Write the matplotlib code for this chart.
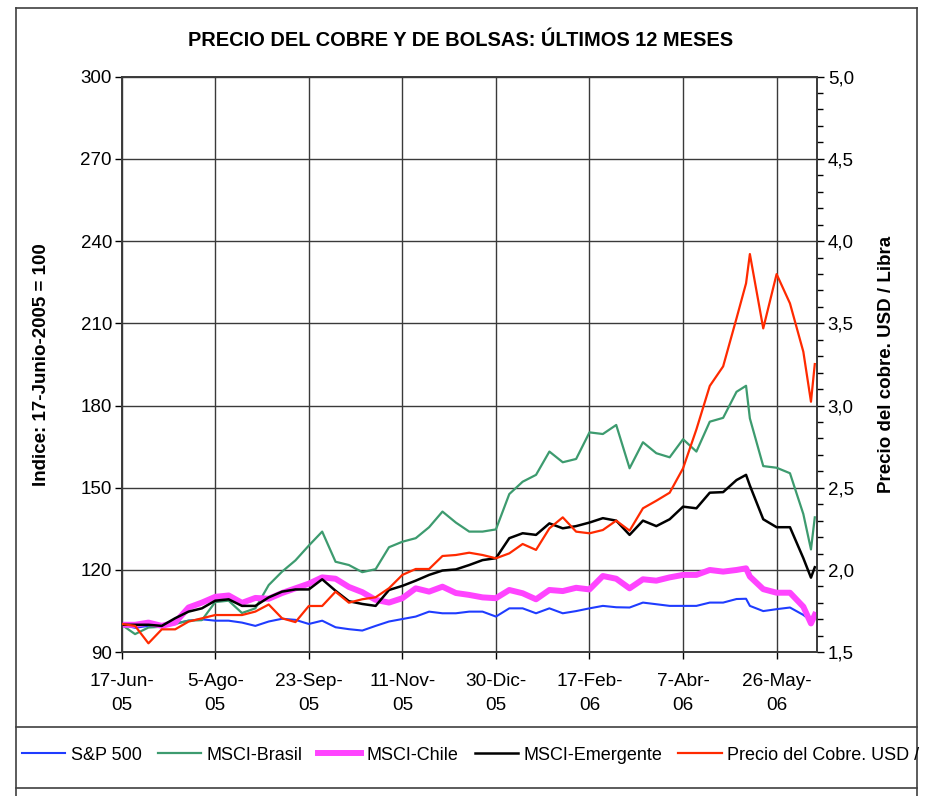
import matplotlib
matplotlib.use("Agg")
import matplotlib.pyplot as plt
import pandas as pd
from matplotlib.ticker import FixedLocator, MultipleLocator, FuncFormatter
from matplotlib.lines import Line2D

plt.rcParams['font.family'] = ['Liberation Sans', 'DejaVu Sans']

# ---------------- data ----------------
weekly_dates = pd.date_range('2005-06-17', '2006-05-05', freq='7D')
extra_dates = pd.to_datetime(['2006-05-10', '2006-05-12', '2006-05-19', '2006-05-26',
                              '2006-06-02', '2006-06-09', '2006-06-13', '2006-06-15'])
dates = weekly_dates.append(extra_dates)

sp500 = [100, 98.9, 99.6, 99.6, 100.5, 101.5, 102, 101.5, 101.5, 100.8,
         99.6, 101.2, 102.2, 101.8, 100.3, 101.5, 99.1, 98.4, 97.9, 99.6,
         101.2, 102.1, 103, 104.8, 104.2, 104.2, 104.8, 104.8, 103, 106,
         106, 104.2, 106, 104.2, 105, 106, 106.9, 106.4, 106.3, 108.1,
         107.5, 106.9, 106.9, 106.9, 108.1, 108.1, 109.4,
         109.5, 106.9, 105, 105.7, 106.3, 103.6, 101.5, 102.5]

brasil = [100, 96.6, 99.0, 99.3, 100.3, 101.5, 101.7, 108.3, 108.8, 104.3,
          106, 114.5, 119.4, 123.5, 128.9, 134, 123, 121.8, 119.2, 120.3,
          128.3, 130.3, 131.6, 135.6, 141.3, 137.3, 134, 134, 134.8, 147.7,
          152.2, 154.7, 163.2, 159.3, 160.5, 170.2, 169.6, 172.9, 157.1, 166.6,
          162.6, 161.1, 167.7, 163.2, 174.1, 175.5, 185,
          187.2, 175.3, 157.9, 157.3, 155.3, 140.4, 127.5, 139.2]

chile = [100, 100, 100.8, 99.6, 100.8, 106.3, 108.1, 110.2, 110.7, 108,
         109.8, 109.5, 111.6, 113.3, 115, 117.3, 116.8, 113.8, 111.9, 109.1,
         108.1, 109.7, 113.3, 112.1, 113.9, 111.6, 110.9, 110, 109.7, 112.7,
         111.5, 109.3, 112.7, 112.3, 113.5, 112.9, 117.8, 116.8, 113.3, 116.6,
         116.1, 117.3, 118.2, 118.2, 120, 119.4, 120,
         120.6, 117.6, 113, 111.7, 111.7, 106.6, 100.5, 103.6]

emergente = [100, 100, 100, 99.6, 102.4, 104.8, 106, 108.8, 109.3, 106.9,
             106.9, 110, 112.1, 112.9, 112.9, 116.6, 112.4, 108.6, 107.6, 106.9,
             112.7, 114.2, 116.1, 118.2, 119.8, 120.2, 121.8, 123.6, 124.3, 131.6,
             133.4, 132.8, 137, 135.2, 136, 137.3, 138.9, 138, 132.8, 138,
             136, 138.5, 143.1, 142.5, 148.2, 148.4, 152.8,
             154.7, 150.8, 138.5, 135.6, 135.6, 124.3, 117.2, 121]

cobre = [1.672, 1.660, 1.554, 1.639, 1.639, 1.686, 1.706, 1.726, 1.726, 1.726,
         1.747, 1.790, 1.706, 1.683, 1.781, 1.781, 1.868, 1.801, 1.822, 1.834,
         1.889, 1.970, 2.006, 2.006, 2.085, 2.091, 2.105, 2.091, 2.071, 2.101,
         2.158, 2.122, 2.253, 2.320, 2.233, 2.223, 2.243, 2.300, 2.239, 2.375,
         2.421, 2.470, 2.618, 2.855, 3.119, 3.238, 3.530,
         3.743, 3.921, 3.469, 3.799, 3.621, 3.327, 3.023, 3.252]

tick_dates = pd.to_datetime(['2005-06-17', '2005-08-05', '2005-09-23', '2005-11-11',
                             '2005-12-30', '2006-02-17', '2006-04-07', '2006-05-26'])
tick_labels = ['17-Jun-\n05', '5-Ago-\n05', '23-Sep-\n05', '11-Nov-\n05',
               '30-Dic-\n05', '17-Feb-\n06', '7-Abr-\n06', '26-May-\n06']

series_names = ['S&P 500', 'MSCI-Brasil', 'MSCI-Chile', 'MSCI-Emergente',
                'Precio del Cobre. USD /']

# ---------------- figure ----------------
W, H = 928, 796
fig = plt.figure(figsize=(W / 100, H / 100), dpi=100)
fig.patch.set_facecolor('white')

left, right, top, bottom = 121.7, 816.7, 76.6, 652.2
ax = fig.add_axes([left / W, 1 - bottom / H, (right - left) / W, (bottom - top) / H])
ax2 = ax.twinx()

FS = 13.7
blue, green, pink, black, red = '#1f3cff', '#3d9b6f', '#ff44ff', '#000000', '#ff2a00'

l1, = ax.plot(dates, sp500, color=blue, lw=1.5, zorder=3)
l2, = ax.plot(dates, brasil, color=green, lw=1.6, zorder=3)
l3, = ax.plot(dates, chile, color=pink, lw=4.3, zorder=3, solid_joinstyle='round')
l4, = ax.plot(dates, emergente, color=black, lw=1.8, zorder=4)
l5, = ax2.plot(dates, cobre, color=red, lw=1.6, zorder=5)

ax.set_xlim(pd.Timestamp('2005-06-17'), pd.Timestamp('2006-06-16'))
ax.set_ylim(90, 300)
ax2.set_ylim(1.5, 5.0)

ax.xaxis.set_major_locator(FixedLocator(matplotlib.dates.date2num(tick_dates)))
ax.set_xticklabels(tick_labels, fontsize=FS, linespacing=1.55)
ax.yaxis.set_major_locator(MultipleLocator(30))
ax2.yaxis.set_major_locator(MultipleLocator(0.5))
ax2.yaxis.set_minor_locator(MultipleLocator(0.1))
ax2.yaxis.set_major_formatter(FuncFormatter(lambda v, p: f'{v:.1f}'.replace('.', ',')))

ax.grid(True, which='major', color='#3a3a3a', lw=1.0, zorder=1)
ax.set_axisbelow(True)

ax.tick_params(axis='y', labelsize=13.5, length=5, width=1, pad=2, direction='out')
ax.tick_params(axis='x', labelsize=FS, length=5, width=1, pad=10, direction='out')
ax2.tick_params(axis='y', which='major', labelsize=13.5, length=5, width=1, pad=3, direction='out')
ax2.tick_params(axis='y', which='minor', length=4, width=1, direction='out')

for a in (ax, ax2):
    for s in a.spines.values():
        s.set_color('#3a3a3a')
        s.set_linewidth(1.2)

ax.set_ylabel('Indice: 17-Junio-2005 = 100', fontsize=13.5, fontweight='bold')
ax.yaxis.set_label_coords((50 - left) / (right - left), 0.5)
ax2.set_ylabel('Precio del cobre. USD / Libra', fontsize=13.5, fontweight='bold')
ax2.yaxis.set_label_coords((878 - left) / (right - left), 0.5)

fig.text(461 / W, 1 - 40 / H, 'PRECIO DEL COBRE Y DE BOLSAS: ÚLTIMOS 12 MESES',
         ha='center', va='center', fontsize=14.4, fontweight='bold')

# ---------------- legend ----------------
leg = fig.legend([l1, l2, l3, l4, l5], series_names, ncol=5, loc='center left',
                 bbox_to_anchor=(22 / W, 1 - 755 / H), frameon=False, fontsize=13,
                 handlelength=2.4, handletextpad=0.3, columnspacing=0.88,
                 borderaxespad=0, borderpad=0)

# ---------------- frame lines ----------------
fc = '#404040'
def px_line(x0, y0, x1, y1):
    fig.add_artist(Line2D([x0 / W, x1 / W], [1 - y0 / H, 1 - y1 / H],
                          transform=fig.transFigure, color=fc, lw=1.2))
px_line(16, 8, 917, 8)
px_line(16, 8, 16, 796)
px_line(917, 8, 917, 796)
px_line(16, 727, 917, 727)
px_line(16, 788, 917, 788)

fig.savefig('out.png', dpi=100)
